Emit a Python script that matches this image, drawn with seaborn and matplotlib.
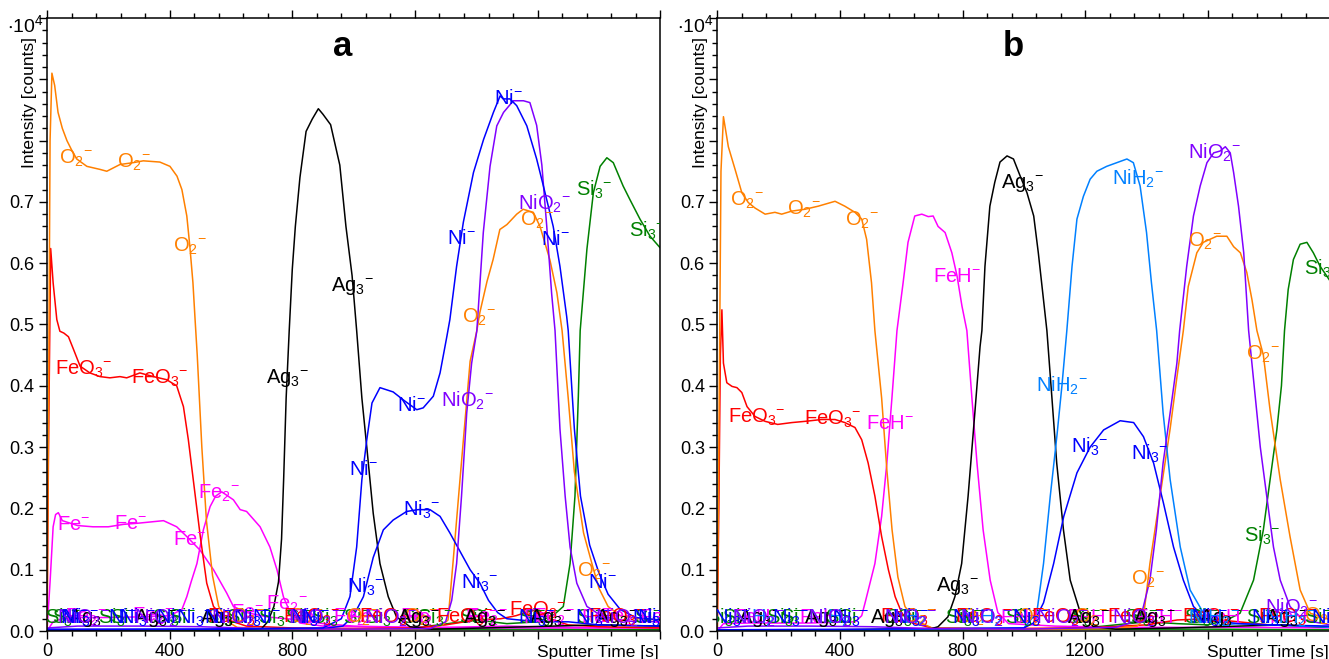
import re
import numpy as np
import pandas as pd
import matplotlib
matplotlib.use("Agg")
import matplotlib.pyplot as plt
from matplotlib.ticker import MultipleLocator, FuncFormatter
import seaborn as sns

# ---------------- panel a : depth profile ----------------
a_o2_t = [0, 5, 10, 16, 25, 36, 50, 65, 80, 97, 130, 173, 195, 238, 281, 314, 368, 401, 424, 440,
          456, 466, 476, 483, 490, 505, 520, 540, 560, 590, 620, 700, 900, 1100, 1250, 1290, 1308,
          1324, 1347, 1380, 1402, 1412, 1435, 1455, 1477, 1500, 1532, 1553, 1586, 1608, 1640, 1663,
          1680, 1700, 1720, 1750, 1780, 1800, 1830, 1870, 1930, 2000]
a_o2_v = [0.0, 0.35, 0.8, 0.91, 0.89, 0.846, 0.82, 0.80, 0.785, 0.77, 0.758, 0.753, 0.75, 0.761,
          0.764, 0.767, 0.765, 0.758, 0.742, 0.72, 0.677, 0.627, 0.568, 0.508, 0.45, 0.3, 0.18, 0.09,
          0.04, 0.015, 0.006, 0.004, 0.003, 0.003, 0.004, 0.01, 0.018, 0.11, 0.247, 0.44, 0.49, 0.52,
          0.57, 0.606, 0.655, 0.663, 0.68, 0.688, 0.683, 0.66, 0.606, 0.552, 0.49, 0.38, 0.26, 0.16,
          0.105, 0.07, 0.04, 0.025, 0.02, 0.018]

a_feo3_t = [0, 5, 12, 20, 32, 42, 55, 70, 86, 108, 140, 173, 205, 238, 260, 303, 347, 390, 423, 445,
            461, 477, 500, 521, 543, 575, 608, 650, 800, 1000, 1200, 1300, 1400, 1480, 1530, 1560,
            1600, 1640, 1700, 1800, 2000]
a_feo3_v = [0.0, 0.3, 0.624, 0.568, 0.508, 0.489, 0.486, 0.48, 0.46, 0.432, 0.421, 0.415, 0.413,
            0.415, 0.413, 0.421, 0.415, 0.41, 0.40, 0.366, 0.312, 0.247, 0.154, 0.078, 0.04, 0.023,
            0.015, 0.008, 0.005, 0.004, 0.005, 0.01, 0.018, 0.02, 0.025, 0.03, 0.035, 0.02, 0.01,
            0.007, 0.005]

a_fe_t = [0, 10, 20, 28, 37, 50, 100, 150, 200, 250, 300, 340, 380, 423, 456, 499, 543, 586, 608,
          652, 717, 825, 900, 1000, 1200, 1400, 1600, 1800, 2000]
a_fe_v = [0.0, 0.08, 0.17, 0.19, 0.193, 0.18, 0.172, 0.17, 0.17, 0.174, 0.176, 0.178, 0.18, 0.17,
          0.154, 0.132, 0.1, 0.062, 0.04, 0.03, 0.023, 0.018, 0.012, 0.008, 0.006, 0.005, 0.005,
          0.005, 0.005]

a_fe2_t = [0, 20, 50, 100, 200, 300, 400, 440, 456, 470, 489, 510, 532, 550, 570, 608, 630, 651,
           695, 727, 750, 771, 793, 825, 900, 1100, 1300, 1500, 1700, 2000]
a_fe2_v = [0.0, 0.015, 0.02, 0.022, 0.022, 0.023, 0.025, 0.035, 0.056, 0.08, 0.11, 0.165, 0.203,
           0.22, 0.227, 0.214, 0.198, 0.195, 0.17, 0.137, 0.1, 0.056, 0.03, 0.013, 0.008, 0.006,
           0.006, 0.008, 0.006, 0.005]

a_ag3_t = [0, 300, 600, 700, 720, 740, 755, 765, 772, 780, 790, 800, 810, 825, 845, 865, 885, 900,
           925, 955, 975, 995, 1010, 1027, 1043, 1064, 1086, 1113, 1140, 1184, 1250, 1350, 1500,
           1650, 1800, 2000]
a_ag3_v = [0.0, 0.002, 0.002, 0.004, 0.015, 0.04, 0.08, 0.15, 0.25, 0.38, 0.49, 0.59, 0.66, 0.74,
           0.815, 0.835, 0.852, 0.843, 0.826, 0.76, 0.66, 0.58, 0.49, 0.38, 0.3, 0.192, 0.11, 0.056,
           0.023, 0.007, 0.003, 0.004, 0.006, 0.008, 0.01, 0.008]

a_ni_t = [0, 500, 900, 960, 988, 1010, 1027, 1043, 1060, 1086, 1129, 1162, 1206, 1227, 1260, 1282,
          1304, 1314, 1336, 1358, 1391, 1424, 1456, 1478, 1488, 1510, 1532, 1565, 1597, 1619, 1651,
          1673, 1695, 1700, 1720, 1740, 1770, 1800, 1830, 1870, 1920, 2000]
a_ni_v = [0.003, 0.003, 0.005, 0.02, 0.056, 0.137, 0.247, 0.312, 0.372, 0.397, 0.39, 0.377, 0.361,
          0.364, 0.383, 0.421, 0.48, 0.508, 0.595, 0.667, 0.748, 0.802, 0.846, 0.873, 0.868, 0.868,
          0.857, 0.824, 0.77, 0.726, 0.66, 0.595, 0.513, 0.49, 0.33, 0.22, 0.14, 0.095, 0.06, 0.035,
          0.022, 0.018]

a_ni3_t = [0, 500, 900, 965, 1000, 1032, 1064, 1097, 1129, 1173, 1210, 1249, 1282, 1314, 1347,
           1380, 1412, 1440, 1470, 1500, 1600, 1700, 1800, 2000]
a_ni3_v = [0.002, 0.003, 0.004, 0.008, 0.025, 0.056, 0.12, 0.165, 0.181, 0.195, 0.198, 0.198, 0.187,
           0.16, 0.13, 0.1, 0.078, 0.05, 0.03, 0.02, 0.015, 0.015, 0.01, 0.008]

a_nio2_t = [0, 100, 300, 500, 700, 1000, 1250, 1300, 1320, 1336, 1352, 1369, 1385, 1402, 1423,
            1445, 1467, 1489, 1521, 1554, 1575, 1597, 1614, 1630, 1646, 1657, 1673, 1690, 1706,
            1728, 1761, 1814, 1900, 2000]
a_nio2_v = [0.005, 0.008, 0.008, 0.007, 0.004, 0.003, 0.004, 0.015, 0.05, 0.11, 0.22, 0.356, 0.437,
            0.49, 0.65, 0.758, 0.824, 0.846, 0.865, 0.865, 0.862, 0.825, 0.76, 0.66, 0.55, 0.49,
            0.33, 0.22, 0.137, 0.078, 0.04, 0.023, 0.016, 0.015]

a_si3_t = [0, 500, 1000, 1200, 1400, 1500, 1600, 1650, 1684, 1706, 1722, 1733, 1739, 1761, 1782,
           1804, 1826, 1847, 1879, 1901, 1934, 1967, 2000]
a_si3_v = [0.002, 0.002, 0.003, 0.005, 0.018, 0.012, 0.015, 0.025, 0.04, 0.11, 0.22, 0.383, 0.49,
           0.623, 0.715, 0.758, 0.772, 0.764, 0.726, 0.704, 0.672, 0.644, 0.625]

a_si_t = [0, 400, 800, 1200, 1600, 2000]
a_si_v = [0.001, 0.002, 0.002, 0.003, 0.003, 0.002]

# label positions (sputter time of each curve label)
a_lab_o2 = [95, 284, 466, 655, 845, 1030, 1220, 1409, 1598, 1784]
a_lab_feo3 = [121, 369, 617, 865, 1113, 1361, 1602, 1857]
a_lab_fe = [87, 273, 466, 656, 846, 1036, 1226, 1416, 1606, 1796, 1986]
a_lab_fe2 = [127, 345, 561, 782, 1000, 1218, 1436, 1654, 1872]
a_lab_ag3 = [138, 353, 568, 783, 998, 1213, 1428, 1643, 1858]
a_lab_ni = [89, 246, 403, 560, 717, 874, 1031, 1188, 1350, 1504, 1658, 1813, 1970]
a_lab_ni3 = [110, 296, 482, 668, 854, 1040, 1223, 1412, 1598, 1784, 1970]
a_lab_nio2 = [118, 369, 620, 871, 1122, 1373, 1624, 1875]
a_lab_si3 = [54, 227, 400, 573, 746, 919, 1092, 1265, 1438, 1611, 1784, 1957]
a_lab_si = [60, 250, 440, 630, 820, 1010, 1200, 1390, 1580, 1770, 1960]

# ---------------- panel b : depth profile ----------------
b_o2_t = [0, 5, 12, 20, 36, 58, 80, 101, 123, 156, 188, 210, 243, 286, 329, 384, 416, 449, 471, 487,
          503, 514, 536, 553, 570, 589, 612, 644, 700, 900, 1100, 1300, 1370, 1389, 1411, 1444, 1477,
          1498, 1520, 1536, 1564, 1585, 1629, 1662, 1684, 1706, 1727, 1744, 1760, 1781, 1803, 1836,
          1868, 1901, 1934, 2000]
b_o2_v = [0.0, 0.3, 0.75, 0.839, 0.79, 0.753, 0.715, 0.699, 0.69, 0.68, 0.683, 0.68, 0.685, 0.688,
          0.693, 0.701, 0.693, 0.683, 0.672, 0.639, 0.568, 0.49, 0.38, 0.263, 0.165, 0.088, 0.04,
          0.018, 0.005, 0.003, 0.003, 0.004, 0.008, 0.018, 0.11, 0.22, 0.33, 0.41, 0.49, 0.562,
          0.617, 0.634, 0.644, 0.644, 0.627, 0.617, 0.585, 0.54, 0.49, 0.45, 0.36, 0.247, 0.154,
          0.067, 0.029, 0.018]

b_feo3_t = [0, 5, 10, 15, 20, 31, 48, 64, 80, 97, 123, 156, 197, 243, 286, 340, 384, 416, 449, 471,
            492, 514, 536, 558, 580, 602, 636, 700, 900, 1200, 1400, 1500, 1600, 1700, 1800, 2000]
b_feo3_v = [0.0, 0.2, 0.45, 0.524, 0.437, 0.405, 0.399, 0.397, 0.389, 0.366, 0.35, 0.342, 0.337,
            0.34, 0.342, 0.345, 0.345, 0.34, 0.332, 0.312, 0.274, 0.22, 0.154, 0.1, 0.056, 0.029,
            0.013, 0.005, 0.004, 0.005, 0.01, 0.018, 0.02, 0.015, 0.01, 0.006]

b_feh_t = [0, 20, 100, 300, 450, 471, 482, 514, 536, 553, 570, 586, 606, 622, 644, 667, 688, 704,
           720, 743, 765, 782, 798, 814, 830, 847, 867, 890, 915, 950, 1100, 1300, 1500, 1700, 2000]
b_feh_v = [0.0, 0.012, 0.013, 0.013, 0.015, 0.025, 0.046, 0.11, 0.187, 0.274, 0.383, 0.49, 0.568,
           0.634, 0.677, 0.68, 0.676, 0.677, 0.66, 0.65, 0.617, 0.579, 0.53, 0.49, 0.383, 0.274,
           0.165, 0.083, 0.03, 0.012, 0.008, 0.006, 0.006, 0.006, 0.005]

b_ag3_t = [0, 400, 700, 720, 752, 775, 797, 818, 840, 857, 863, 873, 889, 905, 922, 945, 966, 988,
           1010, 1032, 1047, 1064, 1075, 1091, 1107, 1129, 1151, 1184, 1227, 1300, 1500, 1700, 1850,
           2000]
b_ag3_v = [0.0, 0.002, 0.004, 0.007, 0.023, 0.056, 0.11, 0.22, 0.356, 0.464, 0.49, 0.595, 0.693,
           0.732, 0.765, 0.775, 0.77, 0.742, 0.715, 0.677, 0.617, 0.54, 0.49, 0.383, 0.274, 0.165,
           0.083, 0.03, 0.007, 0.003, 0.005, 0.008, 0.01, 0.006]

b_nih2_t = [0, 500, 1000, 1042, 1064, 1086, 1108, 1124, 1140, 1157, 1173, 1194, 1216, 1238, 1270,
            1303, 1336, 1357, 1379, 1400, 1416, 1433, 1454, 1477, 1510, 1542, 1586, 1641, 1700, 1800,
            2000]
b_nih2_v = [0.002, 0.002, 0.005, 0.03, 0.11, 0.22, 0.32, 0.4, 0.49, 0.595, 0.672, 0.709, 0.737, 0.75,
            0.758, 0.764, 0.77, 0.764, 0.726, 0.65, 0.568, 0.49, 0.356, 0.247, 0.137, 0.067, 0.029,
            0.01, 0.012, 0.01, 0.006]

b_ni3_t = [0, 500, 1000, 1031, 1064, 1097, 1130, 1173, 1216, 1260, 1314, 1358, 1390, 1423, 1455,
           1488, 1520, 1553, 1597, 1700, 1800, 2000]
b_ni3_v = [0.002, 0.003, 0.005, 0.013, 0.046, 0.11, 0.187, 0.258, 0.3, 0.328, 0.343, 0.34, 0.317,
           0.274, 0.209, 0.137, 0.083, 0.04, 0.018, 0.012, 0.01, 0.008]

b_nio2_t = [0, 100, 300, 500, 700, 1000, 1300, 1379, 1411, 1432, 1454, 1477, 1499, 1508, 1531, 1553,
            1575, 1597, 1619, 1640, 1657, 1673, 1684, 1700, 1717, 1733, 1749, 1771, 1792, 1814, 1836,
            1868, 1910, 2000]
b_nio2_v = [0.005, 0.008, 0.008, 0.007, 0.004, 0.003, 0.006, 0.018, 0.083, 0.165, 0.274, 0.356,
            0.437, 0.49, 0.595, 0.677, 0.726, 0.764, 0.78, 0.783, 0.79, 0.78, 0.748, 0.693, 0.617,
            0.49, 0.41, 0.3, 0.22, 0.137, 0.083, 0.04, 0.018, 0.01]

b_si3_t = [0, 500, 1000, 1200, 1300, 1400, 1500, 1600, 1662, 1705, 1749, 1781, 1803, 1825, 1840,
           1850, 1862, 1879, 1901, 1923, 1944, 1966, 1988, 2000]
b_si3_v = [0.002, 0.002, 0.003, 0.005, 0.01, 0.015, 0.012, 0.01, 0.018, 0.029, 0.083, 0.165, 0.247,
           0.328, 0.4, 0.49, 0.557, 0.606, 0.631, 0.634, 0.617, 0.595, 0.579, 0.57]

b_si_t = [0, 400, 800, 1200, 1600, 2000]
b_si_v = [0.001, 0.002, 0.002, 0.003, 0.003, 0.002]

b_lab_o2 = [97, 283, 472, 659, 846, 1033, 1220, 1405, 1591, 1780, 1968]
b_lab_feo3 = [129, 376, 623, 870, 1117, 1364, 1611, 1858]
b_lab_feh = [125, 344, 563, 782, 1001, 1220, 1439, 1658, 1877]
b_lab_ag3 = [137, 352, 567, 782, 997, 1212, 1427, 1642, 1857]
b_lab_nih2 = [132, 380, 628, 876, 1124, 1372, 1620, 1868]
b_lab_ni3 = [46, 241, 436, 631, 826, 1021, 1216, 1411, 1606, 1801, 1996]
b_lab_nio2 = [135, 383, 631, 879, 1127, 1375, 1623, 1872]
b_lab_si3 = [22, 217, 412, 607, 802, 997, 1192, 1387, 1582, 1777, 1972]
b_lab_si = [60, 250, 440, 630, 820, 1010, 1200, 1390, 1580, 1770, 1960]

COLORS = {"O2-": "#ff8000", "FeO3-": "#ff0000", "Fe-": "#ff00ff", "Fe2-": "#ff00ff",
          "FeH-": "#ff00ff", "Ag3-": "#000000", "Ni-": "#0000ff", "Ni3-": "#0000ff",
          "NiO2-": "#8000ff", "NiH2-": "#0080ff", "Si3-": "#008000", "Si-": "#008000"}

panel_a = {
    "Si-": (a_si_t, a_si_v, a_lab_si),
    "Si3-": (a_si3_t, a_si3_v, a_lab_si3),
    "Fe2-": (a_fe2_t, a_fe2_v, a_lab_fe2),
    "Fe-": (a_fe_t, a_fe_v, a_lab_fe),
    "FeO3-": (a_feo3_t, a_feo3_v, a_lab_feo3),
    "O2-": (a_o2_t, a_o2_v, a_lab_o2),
    "Ag3-": (a_ag3_t, a_ag3_v, a_lab_ag3),
    "Ni3-": (a_ni3_t, a_ni3_v, a_lab_ni3),
    "NiO2-": (a_nio2_t, a_nio2_v, a_lab_nio2),
    "Ni-": (a_ni_t, a_ni_v, a_lab_ni),
}
panel_b = {
    "Si-": (b_si_t, b_si_v, b_lab_si),
    "Si3-": (b_si3_t, b_si3_v, b_lab_si3),
    "FeH-": (b_feh_t, b_feh_v, b_lab_feh),
    "FeO3-": (b_feo3_t, b_feo3_v, b_lab_feo3),
    "O2-": (b_o2_t, b_o2_v, b_lab_o2),
    "Ag3-": (b_ag3_t, b_ag3_v, b_lab_ag3),
    "NiH2-": (b_nih2_t, b_nih2_v, b_lab_nih2),
    "Ni3-": (b_ni3_t, b_ni3_v, b_lab_ni3),
    "NiO2-": (b_nio2_t, b_nio2_v, b_lab_nio2),
}


def ion_label(name):
    m = re.match(r"^(\D+?)(\d*)-$", name)
    base, sub = m.group(1), m.group(2)
    if sub:
        return base + r"$_{%s}{}^{-}$" % sub
    return base + r"$^{-}$"


sns.set_theme(style="ticks")
plt.rcParams["font.family"] = ["Liberation Sans", "DejaVu Sans"]
plt.rcParams["mathtext.default"] = "regular"
plt.rcParams["axes.linewidth"] = 1.1
plt.rcParams["text.color"] = "black"
plt.rcParams["xtick.labelcolor"] = "black"
plt.rcParams["ytick.labelcolor"] = "black"

fig = plt.figure(figsize=(13.29, 6.59), dpi=100)
W, H = 1329.0, 659.0
ax_w = 2000 * 0.3066 / W
ax_h = 613 / H
ax_a = fig.add_axes([47 / W, 1 - 631 / H, ax_w, ax_h])
ax_b = fig.add_axes([717.3 / W, 1 - 631 / H, ax_w, ax_h])

for ax, panel, letter, x0 in [(ax_a, panel_a, "a", 0), (ax_b, panel_b, "b", 670)]:
    df = pd.concat([pd.DataFrame({"time": t, "counts": v, "ion": name})
                    for name, (t, v, _) in panel.items()], ignore_index=True)
    order = list(panel.keys())
    sns.lineplot(data=df, x="time", y="counts", hue="ion", hue_order=order,
                 palette={k: COLORS[k] for k in order}, estimator=None, sort=False,
                 legend=False, linewidth=1.1, ax=ax)

    # curve labels sit on the curves (kept inside the plot)
    for name, (t, v, lab) in panel.items():
        for tl in lab:
            yl = max(float(np.interp(tl, t, v)), 0.022)
            ax.text(tl, yl, ion_label(name), color=COLORS[name], fontsize=14.5,
                    ha="center", va="center", clip_on=True, zorder=5)

    ax.set_xlim(0, 2000)
    ax.set_ylim(0, 1.0)
    ax.xaxis.set_major_locator(MultipleLocator(400))
    ax.xaxis.set_minor_locator(MultipleLocator(80))
    ax.yaxis.set_major_locator(MultipleLocator(0.1))
    ax.yaxis.set_minor_locator(MultipleLocator(0.02))
    ax.xaxis.set_major_formatter(FuncFormatter(lambda x, p: "%d" % x if x <= 1250 else ""))
    ax.yaxis.set_major_formatter(FuncFormatter(lambda y, p: "%.1f" % y if y < 0.75 else ""))
    ax.tick_params(axis="both", which="both", direction="out", top=True, right=False,
                   labeltop=False, labelsize=13, color="black", labelcolor="black",
                   width=1.0, pad=3)
    ax.tick_params(axis="both", which="major", length=6)
    ax.tick_params(axis="both", which="minor", length=3.5)
    for s in ax.spines.values():
        s.set_visible(True)
        s.set_color("black")
    ax.set_xlabel("")
    ax.set_ylabel("")
    ax.annotate("Sputter Time [s]", xy=(1, 0), xycoords="axes fraction", xytext=(-1, -10),
                textcoords="offset points", ha="right", va="top", fontsize=12.5, color="black")
    ax.text(0.482, 0.953, letter, transform=ax.transAxes, fontsize=25, fontweight="bold",
            ha="center", va="center", color="black")
    fig.text((x0 + 30) / W, 1 - 37 / H, "Intensity [counts]", rotation=90, ha="center",
             va="top", fontsize=12.5, color="black")
    fig.text((x0 + 7) / W, 1 - 32 / H, r"$\cdot10^{4}$", ha="left", va="baseline", fontsize=14,
             color="black")

fig.savefig("out.png", dpi=100)
